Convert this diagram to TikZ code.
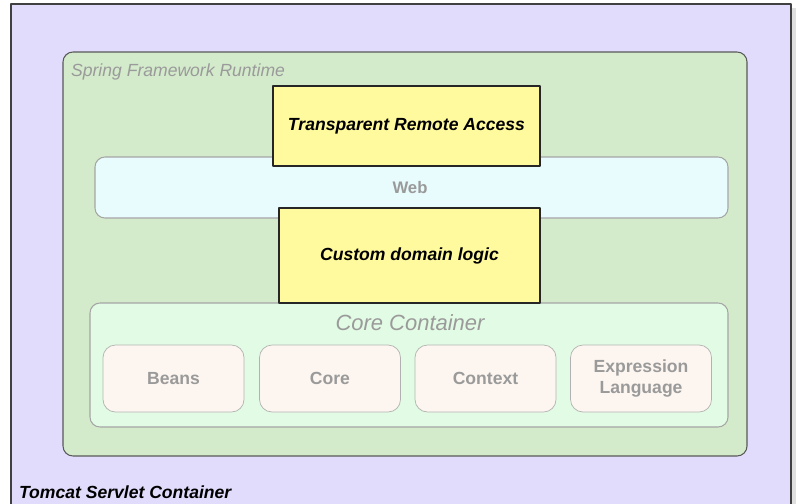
\documentclass[tikz,border=0pt]{standalone}
\usepackage{fontspec}
\setmainfont{Liberation Sans}
\usepackage{xcolor}
\usepackage{tikz}
\usetikzlibrary{calc}

\definecolor{tomcatfill}{HTML}{E1DCFB}
\definecolor{springfill}{HTML}{D3EACB}
\definecolor{webfill}{HTML}{E8FBFD}
\definecolor{corefill}{HTML}{E2FBE4}
\definecolor{modfill}{HTML}{FDF6F0}
\definecolor{userfill}{HTML}{FFFA9E}
\definecolor{labelgray}{HTML}{9A9A9A}

\tikzset{
  layer/.style={draw=gray!70,rounded corners=0.2cm,line width=0.6pt},
  module/.style={draw=gray!60,fill=modfill,rounded corners=0.25cm,minimum width=2.82cm,
    minimum height=1.34cm,align=center,text=labelgray,font=\fontsize{10}{11.5}\selectfont\bfseries},
  userbox/.style={draw=black!85,fill=userfill,line width=0.6pt,
    font=\fontsize{10}{12}\selectfont\bfseries\itshape}
}

\begin{document}
\begin{tikzpicture}[line join=round]
  \useasboundingbox (0,0) rectangle (16.06,10.06);
  % tomcat
  \fill[gray!25] (0.30,9.90) rectangle (15.92,-0.30);
  \draw[fill=tomcatfill,draw=black!75,line width=0.6pt] (0.22,9.98) rectangle (15.82,-0.30);
  \node[anchor=west,inner sep=1pt,font=\fontsize{10}{12}\selectfont\bfseries\itshape] (tomcat) at (0.34,0.22) {Tomcat Servlet Container};
  % spring runtime
  \draw[layer,fill=springfill,draw=black!65] (1.26,9.02) rectangle (14.94,0.94);
  \node[anchor=west,inner sep=1pt,text=labelgray,font=\fontsize{10}{12}\selectfont\itshape] (runtime) at (1.38,8.62) {Spring Framework Runtime};
  % web
  \draw[layer,fill=webfill] (1.90,6.92) rectangle (14.56,5.70);
  \node[text=labelgray,font=\fontsize{9.5}{11}\selectfont\bfseries] (web) at (8.20,6.30) {Web};
  % core container
  \draw[layer,fill=corefill] (1.80,4.00) rectangle (14.56,1.52);
  \node[text=labelgray,font=\fontsize{12.5}{14}\selectfont\itshape] (core) at (8.20,3.60) {Core Container};
  \node[module] (beans) at (3.47,2.49) {Beans};
  \node[module] (coremod) at (6.60,2.49) {Core};
  \node[module] (context) at (9.71,2.49) {Context};
  \node[module] (el) at (12.82,2.49) {Expression\\Language};
  % user parts
  \node[userbox,minimum width=5.34cm,minimum height=1.60cm] (remote) at (8.13,7.54) {Transparent Remote Access};
  \node[userbox,minimum width=5.22cm,minimum height=1.90cm] (domain) at (8.19,4.95) {Custom domain logic};
\end{tikzpicture}
\end{document}
